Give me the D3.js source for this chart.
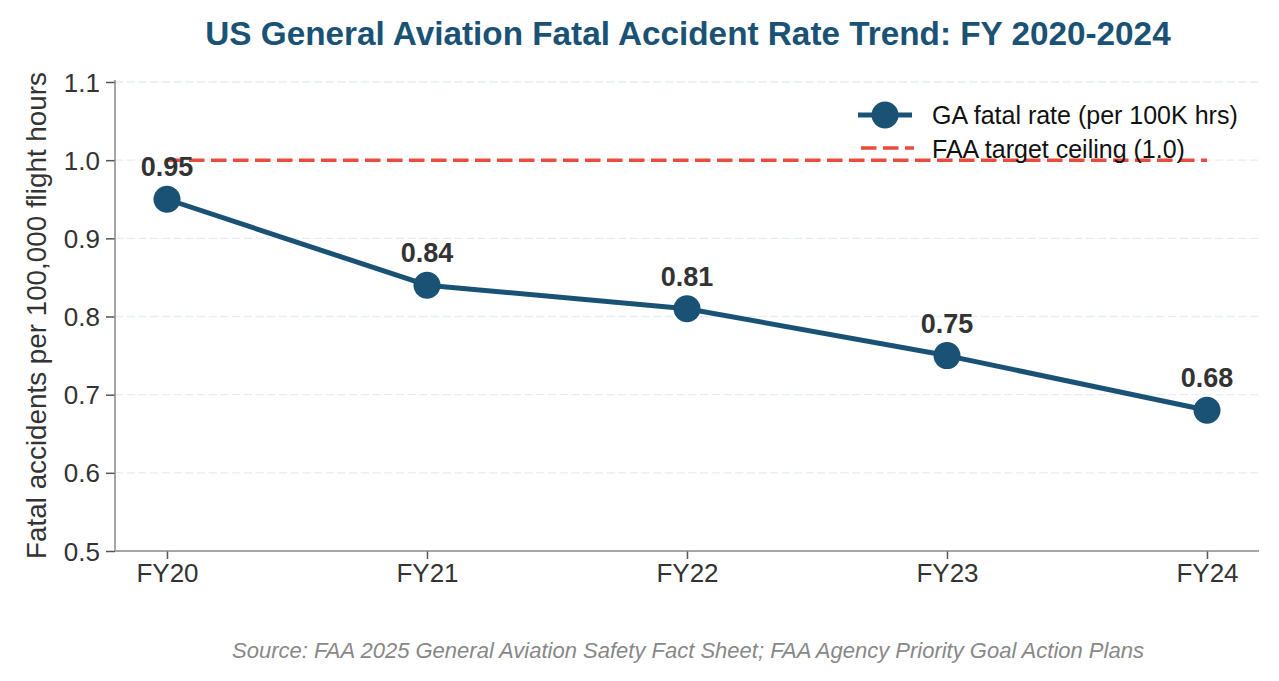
<!DOCTYPE html>
<html><head><meta charset="utf-8">
<script src="https://cdn.jsdelivr.net/npm/d3@7"></script>
<style>body{margin:0;background:#fff;font-family:"Liberation Sans",Arial,sans-serif}</style>
</head><body><svg id="c" width="1279" height="681"></svg>
<script>
const categories = ["FY20","FY21","FY22","FY23","FY24"];
const rates = [0.95,0.84,0.81,0.75,0.68];
const target = 1.0;
const yTicks = [0.5,0.6,0.7,0.8,0.9,1.0,1.1];

const svg = d3.select("#c");
const L=115,R=1259,T=82,B=551;
const x = d3.scaleLinear().domain([-0.2,4.2]).range([L,R]);
const y = d3.scaleLinear().domain([0.5,1.1]).range([B,T]);
const FF = "Liberation Sans, Arial, sans-serif";

// grid
svg.append("g").selectAll("line").data(yTicks.slice(1)).join("line")
  .attr("x1",L).attr("x2",R).attr("y1",d=>y(d)).attr("y2",d=>y(d))
  .attr("stroke","#e6edf2").attr("stroke-width",1.3).attr("stroke-dasharray","8.3,3.4");

// axes
const ya = svg.append("g").attr("transform",`translate(${L},0)`)
  .call(d3.axisLeft(y).tickValues(yTicks).tickFormat(d3.format(".1f")).tickSize(9).tickPadding(6));
const xa = svg.append("g").attr("transform",`translate(0,${B})`)
  .call(d3.axisBottom(x).tickValues(d3.range(categories.length)).tickFormat(i=>categories[i]).tickSize(8).tickPadding(5));
[ya,xa].forEach(a=>{
  a.select(".domain").remove();
  a.selectAll(".tick line").attr("stroke","#555").attr("stroke-width",1.5);
  a.selectAll(".tick text").attr("fill","#333").style("font-size","26px").style("font-family",FF);
});
ya.selectAll(".tick text").attr("dy","0.35em");
svg.append("line").attr("x1",L).attr("x2",L).attr("y1",T-2).attr("y2",B).attr("stroke","#888").attr("stroke-width",1.5);
svg.append("line").attr("x1",L).attr("x2",R).attr("y1",B).attr("y2",B).attr("stroke","#888").attr("stroke-width",1.5);

// target line
svg.append("line").attr("x1",x(0)).attr("x2",x(categories.length-1))
  .attr("y1",y(target)).attr("y2",y(target))
  .attr("stroke","#e74c3c").attr("stroke-width",3.5).attr("stroke-dasharray","15.5,6.5");

// series
const line = d3.line().x((d,i)=>x(i)).y(d=>y(d));
svg.append("path").datum(rates).attr("d",line).attr("fill","none")
  .attr("stroke","#1a5276").attr("stroke-width",5).attr("stroke-linejoin","round");
svg.append("g").selectAll("circle").data(rates).join("circle")
  .attr("cx",(d,i)=>x(i)).attr("cy",d=>y(d)).attr("r",13.5).attr("fill","#1a5276");
svg.append("g").selectAll("text").data(rates).join("text")
  .attr("x",(d,i)=>x(i)).attr("y",d=>y(d)-23).attr("text-anchor","middle")
  .attr("fill","#333").style("font-size","27px").style("font-weight","bold")
  .text(d=>d.toFixed(2));

// legend
const lg = svg.append("g");
lg.append("line").attr("x1",858).attr("x2",912).attr("y1",115).attr("y2",115).attr("stroke","#1a5276").attr("stroke-width",5);
lg.append("circle").attr("cx",885).attr("cy",115).attr("r",13.5).attr("fill","#1a5276");
lg.append("line").attr("x1",861).attr("x2",914).attr("y1",148).attr("y2",148).attr("stroke","#e74c3c").attr("stroke-width",3.5).attr("stroke-dasharray","15.5,6.5");
lg.append("text").attr("x",932).attr("y",124).attr("fill","#111").style("font-size","25px").text("GA fatal rate (per 100K hrs)");
lg.append("text").attr("x",932).attr("y",158).attr("fill","#111").style("font-size","25px").text("FAA target ceiling (1.0)");

// y label
svg.append("text").attr("transform",`translate(46,${(T+B)/2-1}) rotate(-90)`).attr("text-anchor","middle")
  .attr("fill","#333").style("font-size","27.8px").text("Fatal accidents per 100,000 flight hours");

// title
svg.append("text").attr("x",688).attr("y",45).attr("text-anchor","middle")
  .attr("fill","#1a5276").style("font-size","33.3px").style("font-weight","bold")
  .text("US General Aviation Fatal Accident Rate Trend: FY 2020-2024");

// source
svg.append("text").attr("x",688).attr("y",658).attr("text-anchor","middle")
  .attr("fill","#888").style("font-size","22px").style("font-style","italic")
  .text("Source: FAA 2025 General Aviation Safety Fact Sheet; FAA Agency Priority Goal Action Plans");
</script></body></html>
